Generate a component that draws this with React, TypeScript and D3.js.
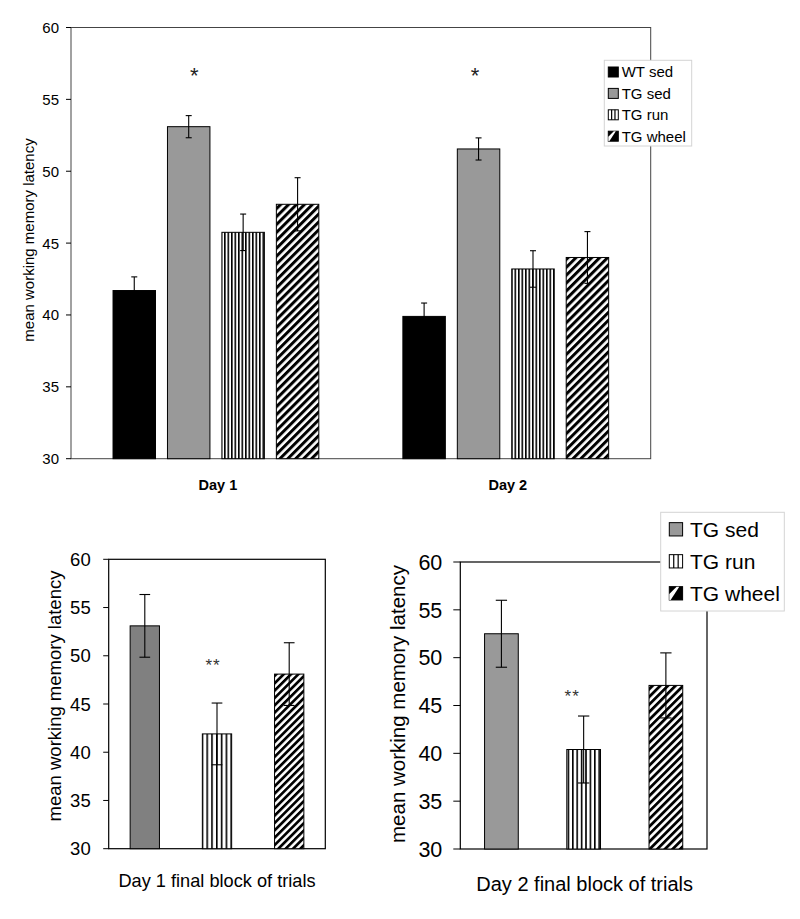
import React from "react";
import * as d3 from "d3";

// ---------- data ----------
const yTicks = [30, 35, 40, 45, 50, 55, 60];

const topCategories = ["Day 1", "Day 2"];
const topGroups = ["WT sed", "TG sed", "TG run", "TG wheel"];
const wtSedMeans = [41.7, 39.9];
const wtSedErr = [0.95, 0.93];
const tgSedMeans = [53.1, 51.55];
const tgSedErr = [0.77, 0.77];
const tgRunMeans = [45.75, 43.2];
const tgRunErr = [1.27, 1.27];
const tgWheelMeans = [47.7, 44.0];
const tgWheelErr = [1.85, 1.8];
const topStars = ["*", "*"]; // on TG sed bars
const topStarValue = 57;

const finalGroups = ["TG sed", "TG run", "TG wheel"];
const day1FinalMeans = [53.1, 41.9, 48.1];
const day1FinalErr = [3.25, 3.2, 3.25];
const day2FinalMeans = [52.5, 40.4, 47.1];
const day2FinalErr = [3.5, 3.5, 3.4];
const finalStarValues = [49.45, 46.4]; // "**" over TG run

const yLabel = "mean working memory latency";
const FONT = "'Liberation Sans', Arial, Helvetica, sans-serif";

type Bar = { x: number; w: number; v: number; e: number; fill: string };

function ErrBar({ b, y, cap }: { b: Bar; y: any; cap: number }) {
  const cx = b.x + b.w / 2;
  const y1 = y(b.v + b.e);
  const y0 = y(b.v - b.e);
  return (
    <g stroke="#000" strokeWidth={1.1}>
      <line x1={cx} x2={cx} y1={y1} y2={y0} />
      <line x1={cx - cap / 2} x2={cx + cap / 2} y1={y1} y2={y1} />
      <line x1={cx - cap / 2} x2={cx + cap / 2} y1={y0} y2={y0} />
    </g>
  );
}

function YAxis({ y, x0, tickLen, gap, fs }: { y: any; x0: number; tickLen: number; gap: number; fs: number }) {
  return (
    <g>
      {yTicks.map((t) => (
        <g key={t}>
          <line x1={x0 - tickLen} x2={x0} y1={y(t)} y2={y(t)} stroke="#000" strokeWidth={1} />
          <text x={x0 - tickLen - gap} y={y(t)} dy="0.36em" textAnchor="end" fontSize={fs} fontFamily={FONT} fill="#000">
            {t}
          </text>
        </g>
      ))}
    </g>
  );
}

export default function App() {
  // ---------- top chart ----------
  const tL = 71, tR = 650.7, tT = 27.5, tB = 458.7;
  const yT = d3.scaleLinear().domain([30, 60]).range([tB, tT]);
  const xT = d3.scaleBand().domain(topCategories).range([tL, tR]);
  const bwT = xT.bandwidth();
  const inner = d3.scaleBand().domain(topGroups).range([0.145 * bwT, 0.855 * bwT]).paddingInner(0.22);
  const topSeries = [
    { m: wtSedMeans, e: wtSedErr, fill: "#000" },
    { m: tgSedMeans, e: tgSedErr, fill: "#999999" },
    { m: tgRunMeans, e: tgRunErr, fill: "url(#vsT)" },
    { m: tgWheelMeans, e: tgWheelErr, fill: "url(#dsT)" },
  ];
  const topBars: Bar[] = [];
  topCategories.forEach((c, ci) => {
    topGroups.forEach((g, gi) => {
      topBars.push({
        x: (xT(c) as number) + (inner(g) as number),
        w: inner.bandwidth(),
        v: topSeries[gi].m[ci],
        e: topSeries[gi].e[ci],
        fill: topSeries[gi].fill,
      });
    });
  });
  const starDx = [5.5, -3.6];

  // ---------- bottom left ----------
  const aL = 108.7, aR = 325.3, aT = 559.3, aB = 848.7;
  const yA = d3.scaleLinear().domain([30, 60]).range([aB, aT]);
  const xA = d3.scaleBand().domain(finalGroups).range([aL, aR]).paddingInner(0.594).paddingOuter(0.297);
  const fillsA = ["#808080", "url(#vsA)", "url(#dsA)"];
  const barsA: Bar[] = finalGroups.map((g, i) => ({
    x: xA(g) as number, w: xA.bandwidth(), v: day1FinalMeans[i], e: day1FinalErr[i], fill: fillsA[i],
  }));

  // ---------- bottom right ----------
  const bL = 460.3, bR = 707, bT = 562, bB = 849;
  const yB = d3.scaleLinear().domain([30, 60]).range([bB, bT]);
  const xB = d3.scaleBand().domain(finalGroups).range([bL, bR]).paddingInner(0.59).paddingOuter(0.295);
  const fillsB = ["#999999", "url(#vsB)", "url(#dsB)"];
  const barsB: Bar[] = finalGroups.map((g, i) => ({
    x: xB(g) as number, w: xB.bandwidth(), v: day2FinalMeans[i], e: day2FinalErr[i], fill: fillsB[i],
  }));

  const topLegendFills = ["#000", "#999999", "run", "wheel"];
  const botLegendFills = ["#999999", "run", "wheel"];

  const swatch = (kind: string, x: number, y: number, s: number) => {
    if (kind === "run") {
      return (
        <g>
          <rect x={x} y={y} width={s} height={s} fill="#fff" stroke="#000" strokeWidth={1} />
          <line x1={x + s / 3} x2={x + s / 3} y1={y} y2={y + s} stroke="#000" strokeWidth={1.2} />
          <line x1={x + (2 * s) / 3} x2={x + (2 * s) / 3} y1={y} y2={y + s} stroke="#000" strokeWidth={1.2} />
        </g>
      );
    }
    if (kind === "wheel") {
      return (
        <g>
          <rect x={x} y={y} width={s} height={s} fill="#000" stroke="#000" strokeWidth={1} />
          <polygon points={`${x},${y + s} ${x},${y + s * 0.55} ${x + s * 0.55},${y}  ${x + s * 0.75},${y} ${x + s * 0.1},${y + s}`} fill="#fff" />
        </g>
      );
    }
    return <rect x={x} y={y} width={s} height={s} fill={kind} stroke="#000" strokeWidth={1} />;
  };

  return (
    <svg width={800} height={919} style={{ position: "absolute", left: 0, top: 0, background: "#fff" }}>
      <defs>
        <pattern id="vsT" patternUnits="userSpaceOnUse" width={3.5} height={10}>
          <rect width={3.5} height={10} fill="#fff" />
          <rect x={0} width={1.6} height={10} fill="#000" />
        </pattern>
        <pattern id="vsA" patternUnits="userSpaceOnUse" width={4.8} height={10}>
          <rect width={4.8} height={10} fill="#fff" />
          <rect x={0} width={1.6} height={10} fill="#000" />
        </pattern>
        <pattern id="vsB" patternUnits="userSpaceOnUse" width={4.4} height={10}>
          <rect width={4.4} height={10} fill="#fff" />
          <rect x={0} width={1.6} height={10} fill="#000" />
        </pattern>
        <pattern id="dsT" patternUnits="userSpaceOnUse" width={5.6} height={10} patternTransform="rotate(45)">
          <rect width={5.6} height={10} fill="#fff" />
          <rect x={0} width={3} height={10} fill="#000" />
        </pattern>
        <pattern id="dsA" patternUnits="userSpaceOnUse" width={5.2} height={10} patternTransform="rotate(45)">
          <rect width={5.2} height={10} fill="#fff" />
          <rect x={0} width={2.7} height={10} fill="#000" />
        </pattern>
        <pattern id="dsB" patternUnits="userSpaceOnUse" width={5.4} height={10} patternTransform="rotate(45)">
          <rect width={5.4} height={10} fill="#fff" />
          <rect x={0} width={2.8} height={10} fill="#000" />
        </pattern>
      </defs>

      {/* ===== Top chart ===== */}
      <rect x={tL} y={tT} width={tR - tL} height={tB - tT} fill="none" stroke="#444" strokeWidth={1} />
      <YAxis y={yT} x0={tL} tickLen={5} gap={7} fs={15} />
      {topBars.map((b, i) => (
        <rect key={i} x={b.x} y={yT(b.v)} width={b.w} height={tB - yT(b.v)} fill={b.fill} stroke="#000" strokeWidth={1} />
      ))}
      {topBars.map((b, i) => (
        <ErrBar key={"e" + i} b={b} y={yT} cap={6} />
      ))}
      {topCategories.map((c, ci) => {
        const bx = (xT(c) as number) + (inner("TG sed") as number) + inner.bandwidth() / 2 + starDx[ci];
        return (
          <text key={"s" + c} x={bx} y={yT(topStarValue)} dy="0.585em" textAnchor="middle" fontSize={22} fontFamily={FONT} fill="#222">
            {topStars[ci]}
          </text>
        );
      })}
      {topCategories.map((c) => (
        <text key={c} x={(xT(c) as number) + bwT / 2 + 2} y={490} textAnchor="middle" fontSize={14.5} fontWeight="bold" fontFamily={FONT}>
          {c}
        </text>
      ))}
      <text transform={`translate(33.5,240) rotate(-90)`} textAnchor="middle" fontSize={15} fontFamily={FONT}>
        {yLabel}
      </text>
      <g>
        <rect x={604.3} y={60.3} width={87.4} height={85.7} fill="#fff" stroke="#d4d4d4" strokeWidth={1} />
        {topGroups.map((g, i) => {
          const cy = 72 + i * 21.4;
          return (
            <g key={g}>
              {swatch(topLegendFills[i], 608.3, cy - 5, 10)}
              <text x={621.7} y={cy} dy="0.36em" fontSize={15} fontFamily={FONT}>
                {g}
              </text>
            </g>
          );
        })}
      </g>

      {/* ===== Bottom left ===== */}
      <rect x={aL} y={aT} width={aR - aL} height={aB - aT} fill="none" stroke="#000" strokeWidth={1.2} />
      <YAxis y={yA} x0={aL} tickLen={5.5} gap={12.5} fs={18.5} />
      {barsA.map((b, i) => (
        <rect key={i} x={b.x} y={yA(b.v)} width={b.w} height={aB - yA(b.v)} fill={b.fill} stroke="#000" strokeWidth={1} />
      ))}
      {barsA.map((b, i) => (
        <ErrBar key={"e" + i} b={b} y={yA} cap={10.7} />
      ))}
      <text x={(xA("TG run") as number) + xA.bandwidth() / 2 - 4} y={yA(finalStarValues[0])} dy="0.585em" textAnchor="middle" fontSize={17} letterSpacing={1} fontFamily={FONT} fill="#333">
        **
      </text>
      <text transform={`translate(60.5,696) rotate(-90)`} textAnchor="middle" fontSize={18.5} fontFamily={FONT}>
        {yLabel}
      </text>
      <text x={(aL + aR) / 2} y={886.5} textAnchor="middle" fontSize={18.2} fontFamily={FONT}>
        Day 1 final block of trials
      </text>

      {/* ===== Bottom right ===== */}
      <rect x={bL} y={bT} width={bR - bL} height={bB - bT} fill="none" stroke="#000" strokeWidth={1.2} />
      <YAxis y={yB} x0={bL} tickLen={7} gap={11} fs={21.5} />
      {barsB.map((b, i) => (
        <rect key={i} x={b.x} y={yB(b.v)} width={b.w} height={bB - yB(b.v)} fill={b.fill} stroke="#000" strokeWidth={1} />
      ))}
      {barsB.map((b, i) => (
        <ErrBar key={"e" + i} b={b} y={yB} cap={11.3} />
      ))}
      <text x={(xB("TG run") as number) + xB.bandwidth() / 2 - 11.5} y={yB(finalStarValues[1])} dy="0.585em" textAnchor="middle" fontSize={17} letterSpacing={1} fontFamily={FONT} fill="#333">
        **
      </text>
      <text transform={`translate(405,704) rotate(-90)`} textAnchor="middle" fontSize={20.5} fontFamily={FONT}>
        {yLabel}
      </text>
      <text x={(bL + bR) / 2 + 1} y={890.5} textAnchor="middle" fontSize={20} fontFamily={FONT}>
        Day 2 final block of trials
      </text>
      <g>
        <rect x={660.7} y={512.3} width={123.6} height={98.7} fill="#fff" stroke="#d4d4d4" strokeWidth={1} />
        {finalGroups.map((g, i) => {
          const cy = 529.3 + i * 32;
          return (
            <g key={g}>
              {swatch(botLegendFills[i], 669.3, cy - 6.65, 13.3)}
              <text x={690} y={cy} dy="0.36em" fontSize={21} fontFamily={FONT}>
                {g}
              </text>
            </g>
          );
        })}
      </g>
    </svg>
  );
}
